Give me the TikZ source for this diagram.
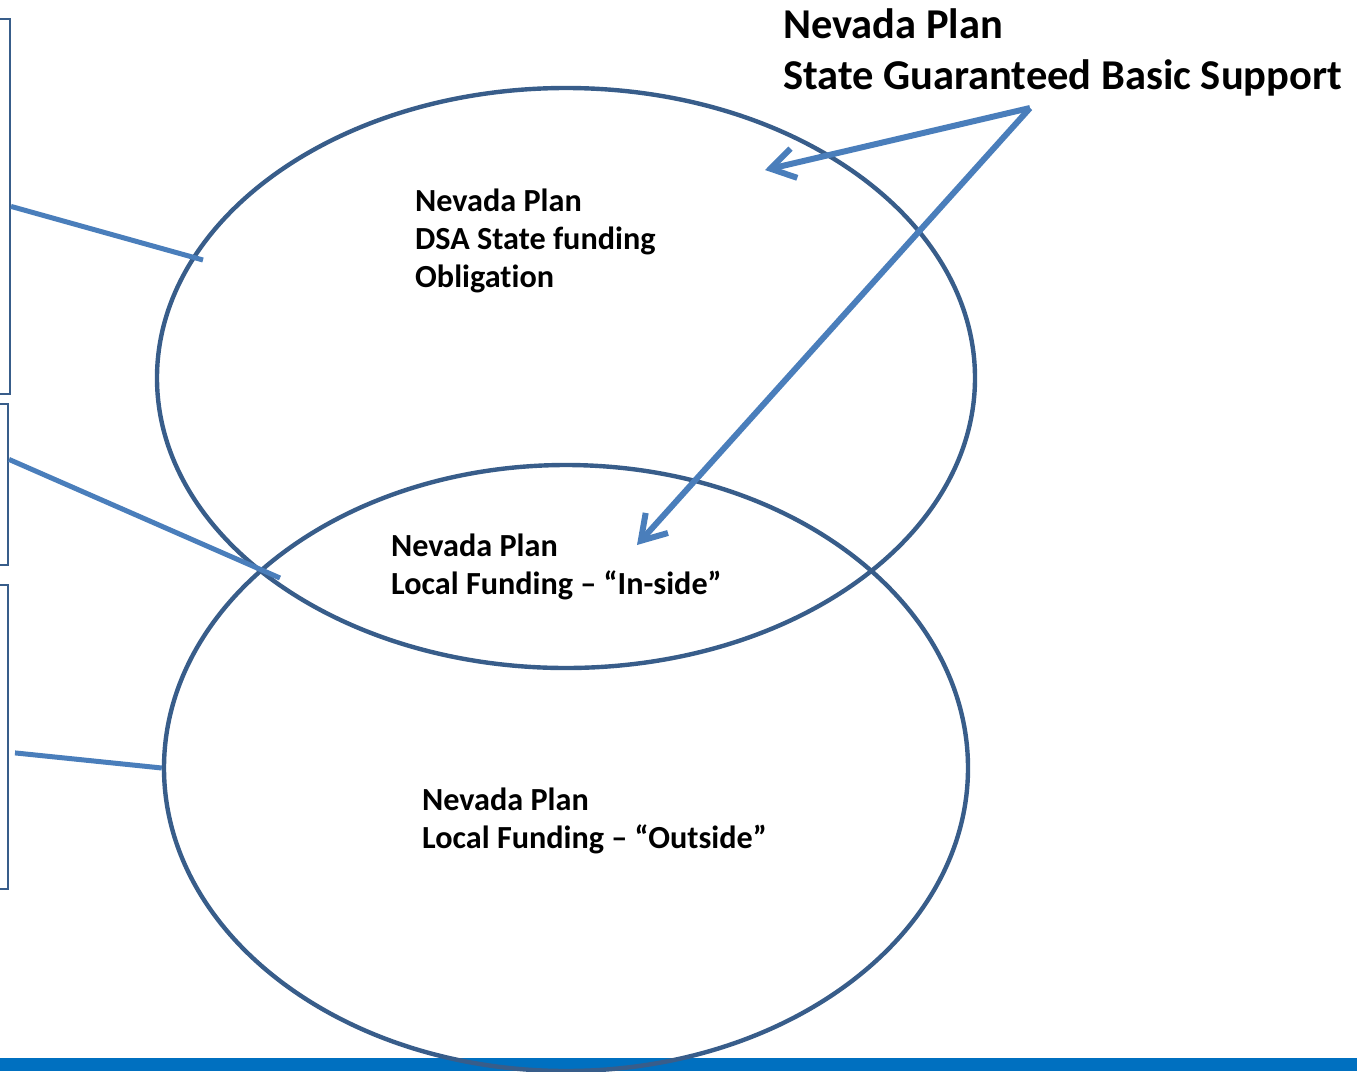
\documentclass[tikz,border=0pt]{standalone}
\usepackage{fontspec}
\setmainfont{Carlito}[Ligatures=NoCommon]
\usetikzlibrary{shapes.geometric,arrows.meta}
\definecolor{ringblue}{HTML}{385D8A}
\definecolor{linkblue}{HTML}{4A7EBB}
\definecolor{barblue}{HTML}{0070C0}

\begin{document}
\begin{tikzpicture}[x=1pt,y=-1pt,
    ring/.style={draw=ringblue,line width=4.4pt,ellipse,inner sep=0pt},
    sidebox/.style={draw=ringblue,line width=1.8pt,inner sep=0pt,anchor=north east,minimum width=40pt},
    link/.style={draw=linkblue,line width=5pt},
    pointer/.style={link,line width=6pt,-{Straight Barb[length=24pt,width=30pt,line width=6pt]}},
    plantext/.style={font=\fontsize{32.2}{38}\selectfont\bfseries,align=left,anchor=base west,inner sep=0pt},
    headtext/.style={font=\fontsize{42.5}{51}\selectfont\bfseries,align=left,anchor=base west,inner sep=0pt}]
             \useasboundingbox (0,0) rectangle (1357,1071);
             \clip (0,0) rectangle (1357,1071);

             \fill[barblue] (0,1058) rectangle (1357,1071);

             \node[sidebox,minimum height=375pt] (box1) at (11,18) {};
             \node[sidebox,minimum height=161pt] (box2) at (9,403) {};
             \node[sidebox,minimum height=304pt] (box3) at (9,584) {};

             \node[ring,minimum width=818pt,minimum height=580pt] (state) at (566,378) {};
             \node[ring,minimum width=804pt,minimum height=606pt] (local) at (566,768) {};

             \node[plantext] (dsa) at (415,287) {Nevada Plan\\DSA State funding\\Obligation};
             \node[plantext] (inside) at (391,594) {Nevada Plan\\Local Funding – “In-side”};
             \node[plantext] (outside) at (422,848) {Nevada Plan\\Local Funding – “Outside”};
             \node[headtext] (guar) at (783,89) {Nevada Plan\\State Guaranteed Basic Support};

             \coordinate (hit1) at (203,260);
             \coordinate (hit2) at (280,578);
             \draw[link] (box1.east) -- (hit1);
             \draw[link] ([yshift=25pt]box2.east) -- (hit2);
             \draw[link] ([shift={(6pt,-16pt)}]box3.east) -- (local.west);

             \coordinate (src) at (1030,108);
             \coordinate (tipA) at (765,170);
             \coordinate (tipB) at (637,545);
             \draw[pointer] (src) -- (tipA);
             \draw[pointer] (src) -- (tipB);
\end{tikzpicture}
\end{document}
